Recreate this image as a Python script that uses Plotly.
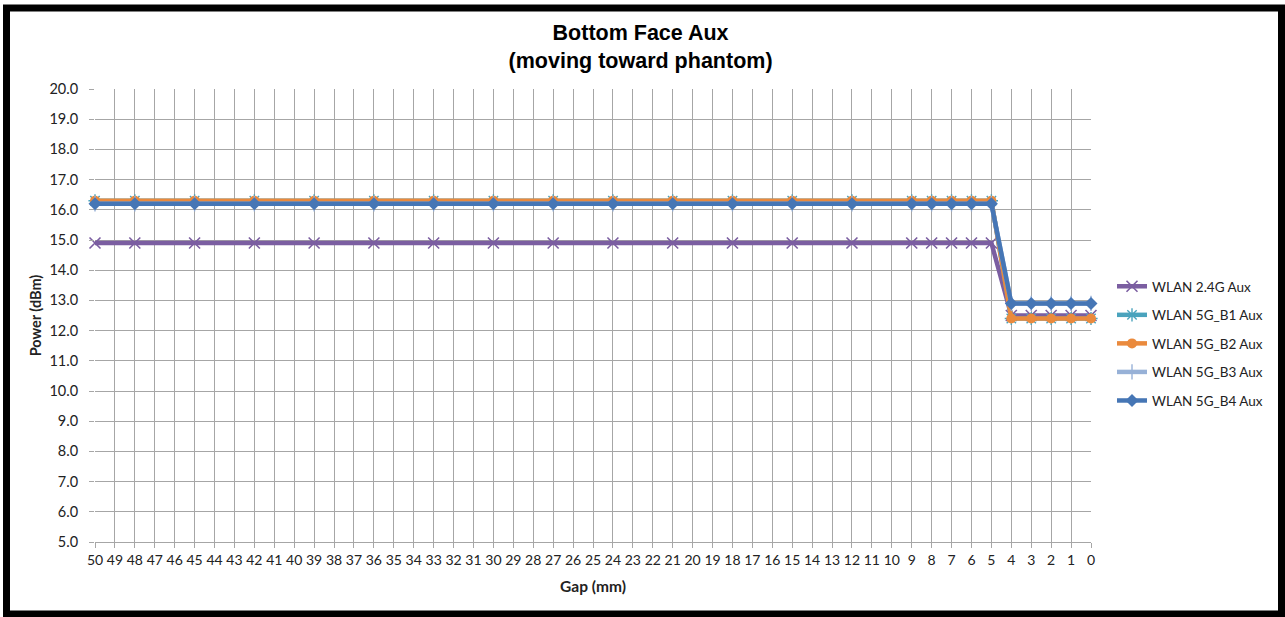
import plotly.graph_objects as go

gap_categories = [str(v) for v in range(50, -1, -1)]
gap_points = ["50", "48", "45", "42", "39", "36", "33", "30", "27", "24", "21", "18",
              "15", "12", "9", "8", "7", "6", "5", "4", "3", "2", "1", "0"]

wlan_24g = [14.9] * 19 + [12.5] * 5
wlan_5g_b1 = [16.3] * 19 + [12.4] * 5
wlan_5g_b2 = [16.3] * 19 + [12.4] * 5
wlan_5g_b3 = [16.2] * 19 + [12.9] * 5
wlan_5g_b4 = [16.2] * 19 + [12.9] * 5

y_ticks = [5.0 + i for i in range(16)]

series = [
    ("WLAN 2.4G Aux", wlan_24g, "#7B5EA1", "x-thin-open", 11, 1.6),
    ("WLAN 5G_B1 Aux", wlan_5g_b1, "#4AA3BD", "asterisk-open", 11, 1.4),
    ("WLAN 5G_B2 Aux", wlan_5g_b2, "#EA8A3D", "circle", 10, 0),
    ("WLAN 5G_B3 Aux", wlan_5g_b3, "#97B1D7", "line-ns-open", 11, 1.4),
    ("WLAN 5G_B4 Aux", wlan_5g_b4, "#4676B5", "diamond", 10, 0),
]

fig = go.Figure()
for i, (name, vals, color, sym, size, lw) in enumerate(series):
    marker = dict(symbol=sym, size=size, color=color)
    if lw:
        marker["line"] = dict(color=color, width=lw)
    fig.add_trace(go.Scatter(
        x=gap_points, y=vals, name=name, mode="lines+markers",
        line=dict(color=color, width=4.5), marker=marker,
        cliponaxis=False, legendgroup=f"g{i}",
    ))

W, H = 1285, 617
L, R, T, B = 95, 194, 89, 75
pw, ph = W - L - R, H - T - B

def px_x(p):
    return (p - L) / pw

def px_y(p):
    return (H - B - p) / ph

fig.add_shape(type="rect", xref="paper", yref="paper",
              x0=px_x(6.5), x1=px_x(1281.5), y0=px_y(614), y1=px_y(8),
              line=dict(color="black", width=7), fillcolor="rgba(0,0,0,0)", layer="above")

fig.update_layout(
    width=W, height=H,
    margin=dict(l=L, r=R, t=T, b=B),
    paper_bgcolor="white", plot_bgcolor="white",
    font=dict(family="Lato, 'Open Sans', sans-serif", size=14, color="#222222"),
    title=dict(text="<b>Bottom Face Aux<br>(moving toward phantom)</b>",
               x=0.4985, xanchor="center", y=0.935, yanchor="top",
               font=dict(family="'Liberation Sans', Arial, sans-serif", size=21.5, color="black")),
    showlegend=True,
    legend=dict(x=px_x(1112), xanchor="left", y=px_y(271), yanchor="top",
                font=dict(size=13.5, color="#222222"), tracegroupgap=8,
                bgcolor="rgba(0,0,0,0)", borderwidth=0),
    xaxis=dict(type="category", categoryorder="array", categoryarray=gap_categories,
               range=[0, 50], tickmode="linear", dtick=1, tickangle=0,
               showgrid=True, gridcolor="#A6A6A6", gridwidth=1,
               showline=True, linecolor="#A6A6A6", linewidth=1,
               ticks="outside", ticklen=5, tickcolor="#A6A6A6",
               tickfont=dict(size=14),
               title=dict(text="<b>Gap (mm)</b>", font=dict(size=15.5), standoff=14),
               zeroline=False),
    yaxis=dict(range=[5, 20], tickmode="array", tickvals=y_ticks,
               ticktext=[f"{v:.1f}" for v in y_ticks],
               showgrid=True, gridcolor="#A6A6A6", gridwidth=1,
               showline=False, ticks="outside", ticklen=5, tickcolor="#A6A6A6",
               tickfont=dict(size=14.5), ticklabelstandoff=8,
               title=dict(text="<b>Power (dBm)</b>", font=dict(size=14.5), standoff=4),
               zeroline=False),
)

fig.write_html("out.html", config={"displayModeBar": False},
               post_script="document.body.style.margin='0';")
